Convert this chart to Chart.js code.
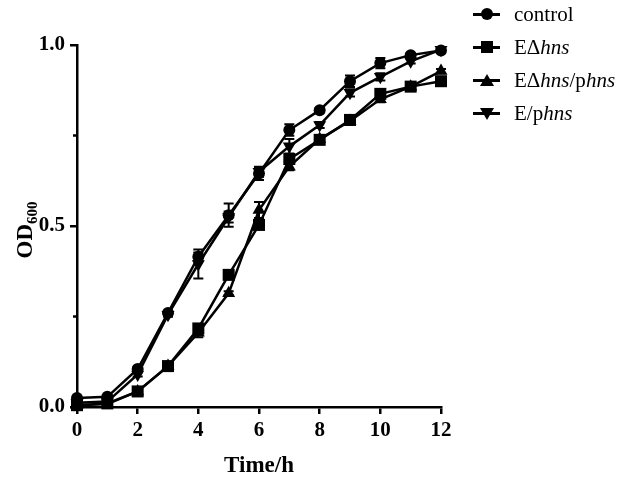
<!DOCTYPE html>
<html>
<head>
<meta charset="utf-8">
<script src="https://cdn.jsdelivr.net/npm/chart.js@4.4.0/dist/chart.umd.min.js"></script>
<style>
  html, body { margin: 0; padding: 0; background: #fff; }
  #wrap { position: relative; width: 624px; height: 480px; }
  #legend { position: absolute; left: 470px; top: 0; font-family: "Liberation Serif", "Times New Roman", serif; font-size: 21px; color: #000; }
  .item { position: absolute; left: 0; width: 154px; height: 24px; }
  .ln { position: absolute; left: 3px; top: 11px; width: 27px; height: 3px; background: #000; }
  .mk { position: absolute; }
  .circle { left: 11px; top: 6px; width: 12px; height: 12px; border-radius: 50%; background: #000; }
  .rect { left: 11px; top: 6px; width: 12px; height: 12px; background: #000; }
  .tri { left: 10px; top: 6px; width: 0; height: 0; border-left: 7px solid transparent; border-right: 7px solid transparent; border-bottom: 12px solid #000; }
  .tridown { left: 10px; top: 7px; width: 0; height: 0; border-left: 7px solid transparent; border-right: 7px solid transparent; border-top: 12px solid #000; }
  .tx { position: absolute; left: 44px; top: 0; line-height: 24px; white-space: nowrap; }
</style>
</head>
<body>
<div id="wrap">
  <canvas id="myChart" width="624" height="480"></canvas>
  <div id="legend"></div>
</div>
<script>
// OD600 readings, one value per hour
const timePoints = [0, 1, 2, 3, 4, 5, 6, 7, 8, 9, 10, 11, 12];
const control      = [0.025, 0.028, 0.105, 0.260, 0.415, 0.530, 0.645, 0.765, 0.820, 0.900, 0.950, 0.972, 0.985];
const deltaHns     = [0.005, 0.010, 0.043, 0.113, 0.217, 0.365, 0.503, 0.685, 0.738, 0.793, 0.865, 0.885, 0.900];
const deltaHnsComp = [0.005, 0.008, 0.043, 0.113, 0.205, 0.314, 0.544, 0.664, 0.740, 0.790, 0.850, 0.885, 0.928];
const overHns      = [0.012, 0.015, 0.090, 0.255, 0.395, 0.525, 0.650, 0.720, 0.779, 0.868, 0.912, 0.955, 0.987];

// error bars (SD)
const errControl      = [0.004, 0.004, 0.006, 0.006, 0.012, 0.032, 0.018, 0.016, 0.006, 0.016, 0.014, 0.006, 0.005];
const errDeltaHns     = [0.003, 0.003, 0.005, 0.006, 0.010, 0.008, 0.012, 0.012, 0.008, 0.010, 0.008, 0.006, 0.006];
const errDeltaHnsComp = [0.003, 0.003, 0.004, 0.005, 0.012, 0.006, 0.022, 0.010, 0.008, 0.010, 0.008, 0.006, 0.006];
const errOverHns      = [0.004, 0.004, 0.006, 0.006, 0.040, 0.015, 0.014, 0.020, 0.008, 0.010, 0.010, 0.006, 0.005];

const seriesNames = ['control', 'EΔhns', 'EΔhns/phns', 'E/phns'];
const legendLabels = ['control', 'EΔ<i>hns</i>', 'EΔ<i>hns</i>/p<i>hns</i>', 'E/p<i>hns</i>'];
const legendMarkers = ['circle', 'rect', 'tri', 'tridown'];

const yMinorTicks = [0.25, 0.75];

const serif = '"Liberation Serif", "Times New Roman", serif';

function points(values) {
    return values.map((v, i) => ({ x: timePoints[i], y: v }));
}

function series(label, values, errors, style, radius, rotation, order) {
    return {
        label: label,
        data: points(values),
        errors: errors,
        order: order,
        borderColor: '#000',
        backgroundColor: '#000',
        borderWidth: 2.5,
        pointStyle: style,
        pointRadius: radius,
        pointRotation: rotation,
        pointBorderWidth: 0,
        pointBackgroundColor: '#000',
        tension: 0,
        fill: false,
        clip: false
    };
}

// error bars drawn under the markers
const errorBars = {
    id: 'errorBars',
    beforeDatasetsDraw(chart) {
        const { ctx, scales: { x, y } } = chart;
        ctx.save();
        ctx.strokeStyle = '#000';
        ctx.lineWidth = 2;
        chart.data.datasets.forEach(ds => {
            ds.data.forEach((p, i) => {
                const e = ds.errors[i];
                const px = x.getPixelForValue(p.x);
                const top = y.getPixelForValue(p.y + e);
                const bot = y.getPixelForValue(p.y - e);
                ctx.beginPath();
                ctx.moveTo(px, top); ctx.lineTo(px, bot);
                ctx.moveTo(px - 5, top); ctx.lineTo(px + 5, top);
                ctx.moveTo(px - 5, bot); ctx.lineTo(px + 5, bot);
                ctx.stroke();
            });
        });
        ctx.restore();
    }
};

// minor ticks on y and the subscripted y title
const axisExtras = {
    id: 'axisExtras',
    afterDraw(chart) {
        const { ctx, chartArea, scales: { y } } = chart;
        ctx.save();
        ctx.strokeStyle = '#000';
        ctx.lineWidth = 2.5;
        yMinorTicks.forEach(v => {
            const py = y.getPixelForValue(v);
            ctx.beginPath();
            ctx.moveTo(chartArea.left - 4, py);
            ctx.lineTo(chartArea.left, py);
            ctx.stroke();
        });

        ctx.translate(24, 230);
        ctx.rotate(-Math.PI / 2);
        ctx.fillStyle = '#000';
        ctx.textBaseline = 'alphabetic';
        ctx.font = 'bold 23px ' + serif;
        const w1 = ctx.measureText('OD').width;
        ctx.font = 'bold 15px ' + serif;
        const w2 = ctx.measureText('600').width;
        const start = -(w1 + w2) / 2;
        ctx.font = 'bold 23px ' + serif;
        ctx.fillText('OD', start, 8);
        ctx.font = 'bold 15px ' + serif;
        ctx.fillText('600', start + w1, 13);
        ctx.restore();
    }
};

const ctx = document.getElementById('myChart').getContext('2d');

const chart = new Chart(ctx, {
    type: 'line',
    data: {
        datasets: [
            series(seriesNames[0], control, errControl, 'circle', 6, 0, 1),
            series(seriesNames[1], deltaHns, errDeltaHns, 'rect', 8.5, 0, 3),
            series(seriesNames[2], deltaHnsComp, errDeltaHnsComp, 'triangle', 7.5, 0, 2),
            series(seriesNames[3], overHns, errOverHns, 'triangle', 7.5, 180, 0)
        ]
    },
    options: {
        responsive: false,
        animation: false,
        events: [],
        layout: { padding: { top: 45, right: 183, left: 0, bottom: 0 } },
        plugins: {
            legend: { display: false },
            tooltip: { enabled: false }
        },
        scales: {
            x: {
                type: 'linear',
                min: 0,
                max: 12,
                ticks: {
                    stepSize: 2,
                    maxRotation: 0,
                    padding: 4,
                    color: '#000',
                    font: { family: serif, size: 21, weight: 'bold' }
                },
                grid: { drawOnChartArea: false, color: '#000', lineWidth: 2.5, tickLength: 7 },
                border: { color: '#000', width: 2.5 },
                title: {
                    display: true,
                    text: 'Time/h',
                    color: '#000',
                    padding: 0,
                    font: { family: serif, size: 23, weight: 'bold' }
                },
                afterFit(scale) { scale.height = 73; }
            },
            y: {
                min: 0,
                max: 1,
                ticks: {
                    stepSize: 0.5,
                    padding: 5,
                    color: '#000',
                    font: { family: serif, size: 21, weight: 'bold' },
                    callback: v => v.toFixed(1)
                },
                grid: { drawOnChartArea: false, color: '#000', lineWidth: 2.5, tickLength: 7 },
                border: { color: '#000', width: 2.5 },
                afterFit(scale) { scale.width = 77; }
            }
        }
    },
    plugins: [errorBars, axisExtras]
});

// html legend so the gene names can be italic
const legend = document.getElementById('legend');
legendLabels.forEach((html, i) => {
    const item = document.createElement('div');
    item.className = 'item';
    item.style.top = (2 + i * 33) + 'px';
    item.innerHTML = '<span class="ln"></span><span class="mk ' + legendMarkers[i] + '"></span><span class="tx">' + html + '</span>';
    legend.appendChild(item);
});
</script>
</body>
</html>
